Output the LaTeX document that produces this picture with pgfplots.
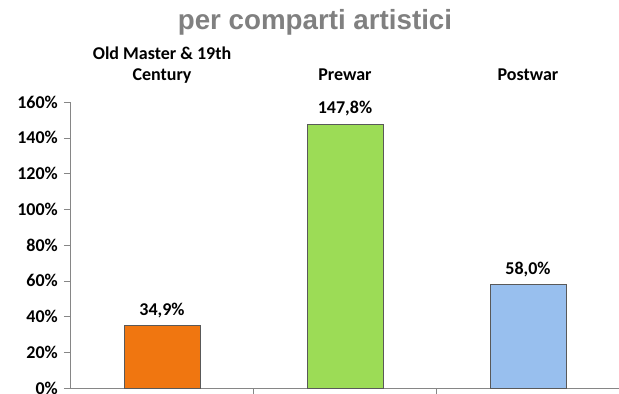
\documentclass[border=0pt]{standalone}
\usepackage{fontspec}
\setmainfont{Carlito}
\newfontfamily\titlefont{Liberation Sans}
\usepackage{pgfplots}
\pgfplotsset{compat=1.18}
\definecolor{barorange}{HTML}{F07610}
\definecolor{bargreen}{HTML}{9CDC56}
\definecolor{barblue}{HTML}{98BFEE}
\definecolor{axgray}{HTML}{868686}
\definecolor{titlegray}{HTML}{808080}
\begin{document}
\begin{tikzpicture}
\begin{axis}[
  at={(0,0)}, anchor=south west,
  scale only axis, width=411.75pt, height=214.5pt,
  xmin=-0.5, xmax=2.5, ymin=0, ymax=160,
  axis x line=bottom, axis y line=left,
  axis line style={axgray, -},
  ytick={0,20,...,160},
  yticklabel={\textbf{\pgfmathprintnumber{\tick}\%}},
  /pgf/number format/assume math mode=true,
  yticklabel style={font=\fontsize{13.5}{15}\selectfont, xshift=-1pt},
  xtick={0.5,1.5}, xticklabels={},
  tick align=outside, major tick length=5pt,
  tick style={axgray},
  clip=false,
  ybar, bar width=57pt, bar shift=0pt,
  nodes near coords={\textbf{\pgfmathprintnumber[use comma,fixed,fixed zerofill,precision=1]{\pgfplotspointmeta}\%}},
  nodes near coords style={font=\fontsize{13.5}{15}\selectfont, black, yshift=2pt},
]
\addplot[fill=barorange, draw=black!65] coordinates {(0,34.9)};
\addplot[fill=bargreen, draw=black!65] coordinates {(1,147.8)};
\addplot[fill=barblue, draw=black!65] coordinates {(2,58.0)};
\node[anchor=base, font=\titlefont\bfseries\fontsize{20.8}{24}\selectfont, text=titlegray] at (axis cs:0.836,200.3) {per comparti artistici};
\node[anchor=base, font=\bfseries\fontsize{13.5}{15}\selectfont] at (axis cs:0,184.0) {Old Master \& 19th};
\node[anchor=base, font=\bfseries\fontsize{13.5}{15}\selectfont] at (axis cs:0,172.0) {Century};
\node[anchor=base, font=\bfseries\fontsize{13.5}{15}\selectfont] at (axis cs:1,172.0) {Prewar};
\node[anchor=base, font=\bfseries\fontsize{13.5}{15}\selectfont] at (axis cs:2,172.0) {Postwar};
\end{axis}
\pgfresetboundingbox
\path[use as bounding box] (-52.9pt,-4.5pt) rectangle (411.4pt,291pt);
\end{tikzpicture}
\end{document}
